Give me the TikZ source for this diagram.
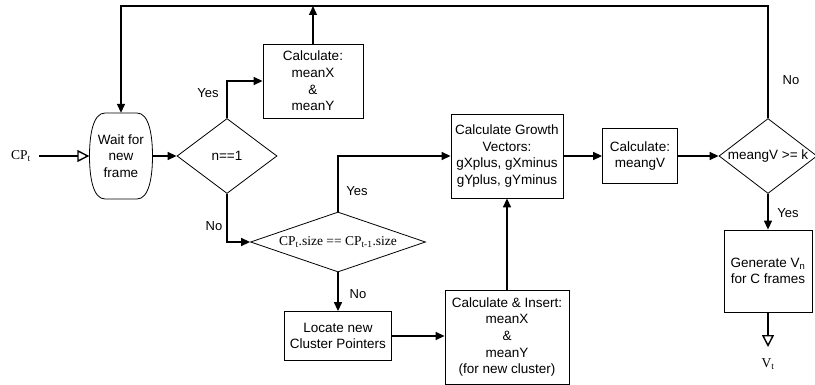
\documentclass[tikz,border=0pt]{standalone}
\usepackage{fontspec}
\setmainfont{Liberation Sans}
\newfontfamily\seriffont{Liberation Serif}
\usetikzlibrary{shapes.geometric,arrows.meta}
\begin{document}
\begin{tikzpicture}[x=1pt,y=-1pt,
  every node/.style={font=\fontsize{13.5}{16.7}\selectfont, inner sep=0pt},
  box/.style={draw, line width=0.8pt, align=center},
  dia/.style={draw, diamond, line width=0.8pt, align=center},
  conn/.style={line width=1.4pt, -{Triangle[length=9pt,width=8pt]}},
  openarr/.style={line width=1.4pt, -{Triangle[open,length=12pt,width=12pt]}},
  lbl/.style={font=\fontsize{13}{15}\selectfont}]
\useasboundingbox (0,0) rectangle (815,385);

\node[align=center, minimum width=63pt, minimum height=86pt] (wait) at (121,156) {Wait for\\new\\frame};
\draw[line width=0.8pt] (105,113) -- (137,113) .. controls (149,113) and (152.5,135) .. (152.5,156)
  .. controls (152.5,177) and (149,199) .. (137,199) -- (105,199)
  .. controls (93,199) and (89.5,177) .. (89.5,156) .. controls (89.5,135) and (93,113) .. (105,113) -- cycle;
\node[dia, minimum width=100pt, minimum height=75pt, shape aspect=1.33] (d1) at (227,156) {n==1};
\node[box, minimum width=100pt, minimum height=74pt] (calc1) at (313,81) {Calculate:\\meanX\\\&\\meanY};
\node[dia, minimum width=175pt, minimum height=60pt, shape aspect=2.9] (d2) at (338,242) {\seriffont CP\textsubscript{t}.size == CP\textsubscript{t-1}.size};
\node[box, minimum width=112pt, minimum height=84pt] (growth) at (507,156) {Calculate Growth\\Vectors:\\gXplus, gXminus\\gYplus, gYminus};
\node[box, minimum width=107pt, minimum height=49pt] (locate) at (338,336) {Locate new\\Cluster Pointers};
\node[box, minimum width=124pt, minimum height=94pt] (insert) at (507,337) {Calculate \& Insert:\\meanX\\\&\\meanY\\(for new cluster)};
\node[box, minimum width=75pt, minimum height=55pt] (meangv) at (640,156) {Calculate:\\meangV};
\node[dia, minimum width=98pt, minimum height=75pt, shape aspect=1.3] (d3) at (768,156) {meangV >= k};
\node[box, minimum width=88pt, minimum height=82pt] (gen) at (768,271) {Generate V\textsubscript{n}\\for C frames};
\node (cpt) at (21,156) {\seriffont CP\textsubscript{t}};
\node (vt) at (768,364) {\seriffont V\textsubscript{t}};
\coordinate (cpend) at (39,156);
\coordinate (vend) at (768,347);
\coordinate (top) at (0,6);

\draw[conn] (d3.north) |- (top -| wait.north) -- (wait.north);
\draw[conn] (calc1.north) -- (calc1.north |- top);
\draw[openarr] (cpend) -- (wait.west);
\draw[conn] (wait.east) -- (d1.west);
\draw[conn] (d1.north) |- (calc1.west);
\draw[conn] (d1.south) |- (d2.west);
\draw[conn] (d2.north) |- (growth.west);
\draw[conn] (d2.south) -- (locate.north);
\draw[conn] (locate.east) -- (locate.east -| insert.west);
\draw[conn] (insert.north) -- (growth.south);
\draw[conn] (growth.east) -- (meangv.west);
\draw[conn] (meangv.east) -- (d3.west);
\draw[conn] (d3.south) -- (gen.north);
\draw[openarr] (gen.south) -- (vend);

\node[lbl] (yes1) at (208,93) {Yes};
\node[lbl] (no1) at (214,226) {No};
\node[lbl] (yes2) at (357,191) {Yes};
\node[lbl] (no2) at (358,294) {No};
\node[lbl] (no3) at (791,80) {No};
\node[lbl] (yes3) at (788,213) {Yes};
\end{tikzpicture}
\end{document}
